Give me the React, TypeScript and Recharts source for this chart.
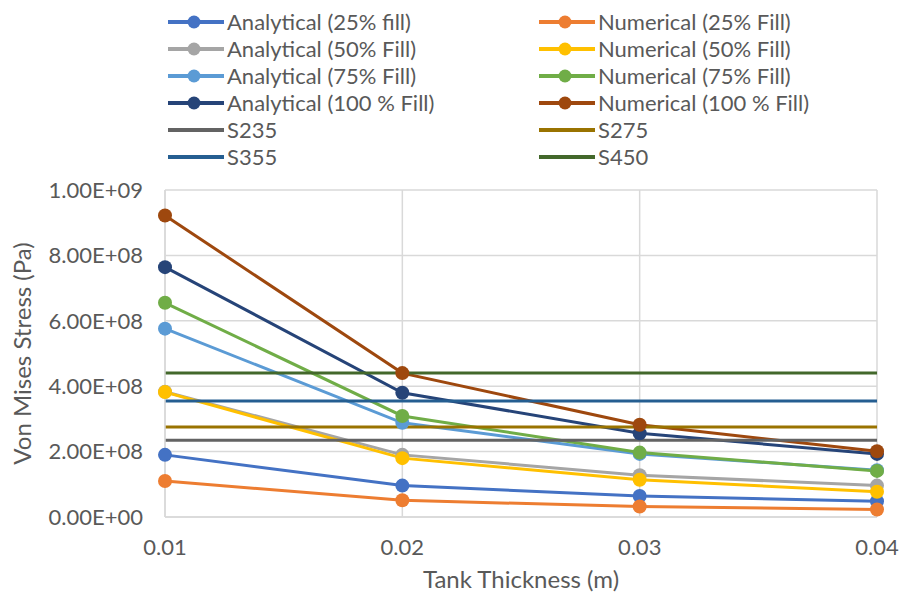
import { LineChart, Line, XAxis, YAxis, CartesianGrid } from "recharts";

document.body.style.margin = "0";

const thickness = [0.01, 0.02, 0.03, 0.04];

const analytical25 = [1.9e8, 9.6e7, 6.4e7, 4.8e7];
const numerical25 = [1.1e8, 5.1e7, 3.2e7, 2.3e7];
const analytical50 = [3.83e8, 1.9e8, 1.28e8, 9.6e7];
const numerical50 = [3.82e8, 1.8e8, 1.14e8, 7.7e7];
const analytical75 = [5.76e8, 2.88e8, 1.93e8, 1.43e8];
const numerical75 = [6.55e8, 3.09e8, 1.97e8, 1.41e8];
const analytical100 = [7.64e8, 3.8e8, 2.56e8, 1.93e8];
const numerical100 = [9.22e8, 4.4e8, 2.82e8, 2.01e8];

// steel grade yield limits
const s235 = 2.35e8;
const s275 = 2.75e8;
const s355 = 3.55e8;
const s450 = 4.4e8;

const yTicks = [0, 2e8, 4e8, 6e8, 8e8, 1e9];

type Series = { key: string; name: string; color: string; values: number[]; dots: boolean };

const series: Series[] = [
  { key: "a25", name: "Analytical (25% fill)", color: "#4472C4", values: analytical25, dots: true },
  { key: "n25", name: "Numerical (25% Fill)", color: "#ED7D31", values: numerical25, dots: true },
  { key: "a50", name: "Analytical (50% Fill)", color: "#A5A5A5", values: analytical50, dots: true },
  { key: "n50", name: "Numerical (50% Fill)", color: "#FFC000", values: numerical50, dots: true },
  { key: "a75", name: "Analytical (75% Fill)", color: "#5B9BD5", values: analytical75, dots: true },
  { key: "n75", name: "Numerical (75% Fill)", color: "#70AD47", values: numerical75, dots: true },
  { key: "a100", name: "Analytical (100 % Fill)", color: "#264478", values: analytical100, dots: true },
  { key: "n100", name: "Numerical (100 % Fill)", color: "#9E480E", values: numerical100, dots: true },
  { key: "s235", name: "S235", color: "#636363", values: thickness.map(() => s235), dots: false },
  { key: "s275", name: "S275", color: "#997300", values: thickness.map(() => s275), dots: false },
  { key: "s355", name: "S355", color: "#255E91", values: thickness.map(() => s355), dots: false },
  { key: "s450", name: "S450", color: "#43682B", values: thickness.map(() => s450), dots: false },
];

const data = thickness.map((t, i) => {
  const row: Record<string, number> = { t };
  series.forEach((s) => (row[s.key] = s.values[i]));
  return row;
});

const FONT = "Lato, 'Noto Sans', sans-serif";
const TEXT = "#595959";

const sci = (v: number) => {
  if (v === 0) return "0.00E+00";
  const e = Math.floor(Math.log10(v));
  const m = v / Math.pow(10, e);
  return `${m.toFixed(2)}E+${String(e).padStart(2, "0")}`;
};

const LegendBox = () => (
  <div
    style={{
      position: "absolute",
      left: 167,
      top: 8,
      display: "grid",
      gridTemplateColumns: "371px 300px",
      fontFamily: FONT,
      fontSize: 22,
      color: TEXT,
    }}
  >
    {series.map((s) => (
      <div key={s.key} style={{ display: "flex", alignItems: "center", height: 27 }}>
        <svg width={58} height={16} style={{ marginRight: 2 }}>
          <line x1={1} y1={8} x2={57} y2={8} stroke={s.color} strokeWidth={4} />
          {s.dots && <circle cx={27} cy={8} r={6.5} fill={s.color} />}
        </svg>
        <span>{s.name}</span>
      </div>
    ))}
  </div>
);

const App = () => {
  return (
    <div style={{ position: "relative", width: 899, height: 595, background: "#fff" }}>
      <LegendBox />
      <LineChart
        width={899}
        height={595}
        data={data}
        margin={{ top: 190, right: 22, bottom: 0, left: 0 }}
      >
        <CartesianGrid stroke="#d9d9d9" strokeWidth={1.5} />
        <XAxis
          dataKey="t"
          type="number"
          domain={[0.01, 0.04]}
          ticks={thickness}
          tickFormatter={(v: number) => v.toFixed(2)}
          height={78}
          axisLine={{ stroke: "#d9d9d9", strokeWidth: 1.5 }}
          tickLine={false}
          tick={{ fill: TEXT, fontSize: 22, fontFamily: FONT }}
          tickMargin={16}
          label={{
            value: "Tank Thickness (m)",
            position: "insideBottom",
            offset: 7,
            fill: TEXT,
            fontSize: 24,
            fontFamily: FONT,
          }}
        />
        <YAxis
          type="number"
          domain={[0, 1e9]}
          ticks={yTicks}
          tickFormatter={sci}
          width={165}
          axisLine={{ stroke: "#d9d9d9", strokeWidth: 1.5 }}
          tickLine={false}
          tick={{ fill: TEXT, fontSize: 22, fontFamily: FONT }}
          tickMargin={16}
          label={{
            value: "Von Mises Stress (Pa)",
            angle: -90,
            position: "insideLeft",
            offset: 22,
            style: { textAnchor: "middle" },
            fill: TEXT,
            fontSize: 24,
            fontFamily: FONT,
          }}
        />
        {series.map((s) => (
          <Line
            key={s.key}
            type="linear"
            dataKey={s.key}
            name={s.name}
            stroke={s.color}
            strokeWidth={3}
            dot={s.dots ? { r: 7, fill: s.color, stroke: "none" } : false}
            activeDot={false}
            isAnimationActive={false}
          />
        ))}
      </LineChart>
    </div>
  );
};

export default App;
